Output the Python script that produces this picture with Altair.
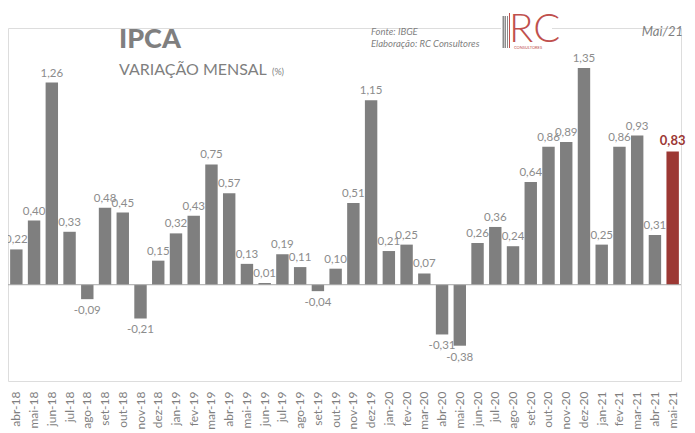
import altair as alt
import pandas as pd

meses = ["abr-18", "mai-18", "jun-18", "jul-18", "ago-18", "set-18", "out-18", "nov-18", "dez-18",
         "jan-19", "fev-19", "mar-19", "abr-19", "mai-19", "jun-19", "jul-19", "ago-19", "set-19",
         "out-19", "nov-19", "dez-19", "jan-20", "fev-20", "mar-20", "abr-20", "mai-20", "jun-20",
         "jul-20", "ago-20", "set-20", "out-20", "nov-20", "dez-20", "jan-21", "fev-21", "mar-21",
         "abr-21", "mai-21"]
ipca = [0.22, 0.40, 1.26, 0.33, -0.09, 0.48, 0.45, -0.21, 0.15,
        0.32, 0.43, 0.75, 0.57, 0.13, 0.01, 0.19, 0.11, -0.04,
        0.10, 0.51, 1.15, 0.21, 0.25, 0.07, -0.31, -0.38, 0.26,
        0.36, 0.24, 0.64, 0.86, 0.89, 1.35, 0.25, 0.86, 0.93,
        0.31, 0.83]
grid_vals = [-0.6, -0.4, -0.2, 0.0, 0.2, 0.4, 0.6, 0.8, 1.0, 1.2, 1.4, 1.6]

ultimo = meses[-1]
df = pd.DataFrame({
    "mes": meses,
    "v": ipca,
    "rot": [f"{x:.2f}".replace(".", ",") for x in ipca],
})

GRAY = "#7f7f7f"
RED = "#9c3834"
LABEL = "#8c8c8c"
FONT = "Lato"

x = alt.X("mes:N", sort=meses, title=None,
          scale=alt.Scale(paddingInner=0.3, paddingOuter=0.12),
          axis=alt.Axis(labelAngle=-90, labelFontSize=12, labelColor=GRAY, labelFont=FONT,
                        ticks=False, tickSize=0, domain=False, labelPadding=10, grid=False))
y = alt.Y("v:Q", title=None,
          scale=alt.Scale(domain=[-0.6, 1.6], nice=False, zero=False),
          axis=alt.Axis(values=grid_vals, labels=False, ticks=False, domain=False,
                        grid=True, gridDash=[1, 2], gridColor="#d0d0d0", gridWidth=1))

base = alt.Chart(df)

bars = base.mark_bar().encode(
    x=x, y=y,
    color=alt.condition(alt.datum.mes == ultimo, alt.value(RED), alt.value(GRAY)),
)

zero = alt.Chart(pd.DataFrame({"z": [0]})).mark_rule(color="#a6a6a6", strokeWidth=1).encode(
    y=alt.Y("z:Q", scale=alt.Scale(domain=[-0.6, 1.6], nice=False, zero=False), axis=None)
)

pos = base.transform_filter((alt.datum.v >= 0) & (alt.datum.mes != ultimo)).mark_text(
    baseline="bottom", dy=-4, fontSize=11.5, color=LABEL, font=FONT
).encode(x=alt.X("mes:N", sort=meses), y="v:Q", text="rot:N")

neg = base.transform_filter(alt.datum.v < 0).mark_text(
    baseline="top", dy=6, fontSize=11.5, color=LABEL, font=FONT
).encode(x=alt.X("mes:N", sort=meses), y="v:Q", text="rot:N")

last = base.transform_filter(alt.datum.mes == ultimo).mark_text(
    baseline="bottom", dy=-4, fontSize=13, fontWeight="bold", color=RED, font=FONT
).encode(x=alt.X("mes:N", sort=meses), y="v:Q", text="rot:N")

def txt(s, px, py, size, color=GRAY, weight="normal", style="normal", align="left", font=FONT):
    return alt.Chart(pd.DataFrame({"t": [s]})).mark_text(
        align=align, baseline="alphabetic", fontSize=size, fontWeight=weight,
        fontStyle=style, color=color, font=font
    ).encode(x=alt.value(px), y=alt.value(py), text="t:N")

titulo = txt("IPCA", 111, 20, 27, weight=900)
sub = txt("VARIAÇÃO MENSAL", 111, 47, 16)
pct = txt("(%)", 264, 47, 9)
fonte = txt("Fonte: IBGE", 363, 7, 9.5, style="italic")
elab = txt("Elaboração: RC Consultores", 363, 19, 9.5, style="italic")
data_ref = txt("Mai/21", 675, 8, 13, style="italic", align="right")

logo_bg = alt.Chart(pd.DataFrame({"a": [0]})).mark_rect(color="white").encode(
    x=alt.value(493), x2=alt.value(544), y=alt.value(-16), y2=alt.value(22))
logo_bars = alt.Chart(pd.DataFrame({"xx": [495.5, 497.5, 499.5], "w": [2, 1, 1]})).mark_rule(
    color="#8c8c8c").encode(x=alt.X("xx:Q", scale=None), y=alt.value(-12), y2=alt.value(20),
                            strokeWidth=alt.StrokeWidth("w:Q", legend=None, scale=None))
logo_red = alt.Chart(pd.DataFrame({"a": [0]})).mark_rule(color="#c0504d", strokeWidth=1).encode(
    x=alt.value(501.5), y=alt.value(-15), y2=alt.value(20))
logo_rc = txt("RC", 501, 14, 40, color="#c0504d", weight=300)
logo_cons = txt("CONSULTORES", 506, 21, 4, color="#c0504d")

chart = alt.layer(
    bars, zero, pos, neg, last,
    titulo, sub, pct, fonte, elab, data_ref,
    logo_bg, logo_bars, logo_red, logo_rc, logo_cons
).properties(
    width=673, height=353,
    autosize=alt.AutoSizeParams(type="none"),
    padding={"left": 0, "top": 20, "right": 6, "bottom": 48},
).configure_view(stroke=None).configure(background="white")

chart.save("out.html", embed_options={"renderer": "svg", "actions": False})
